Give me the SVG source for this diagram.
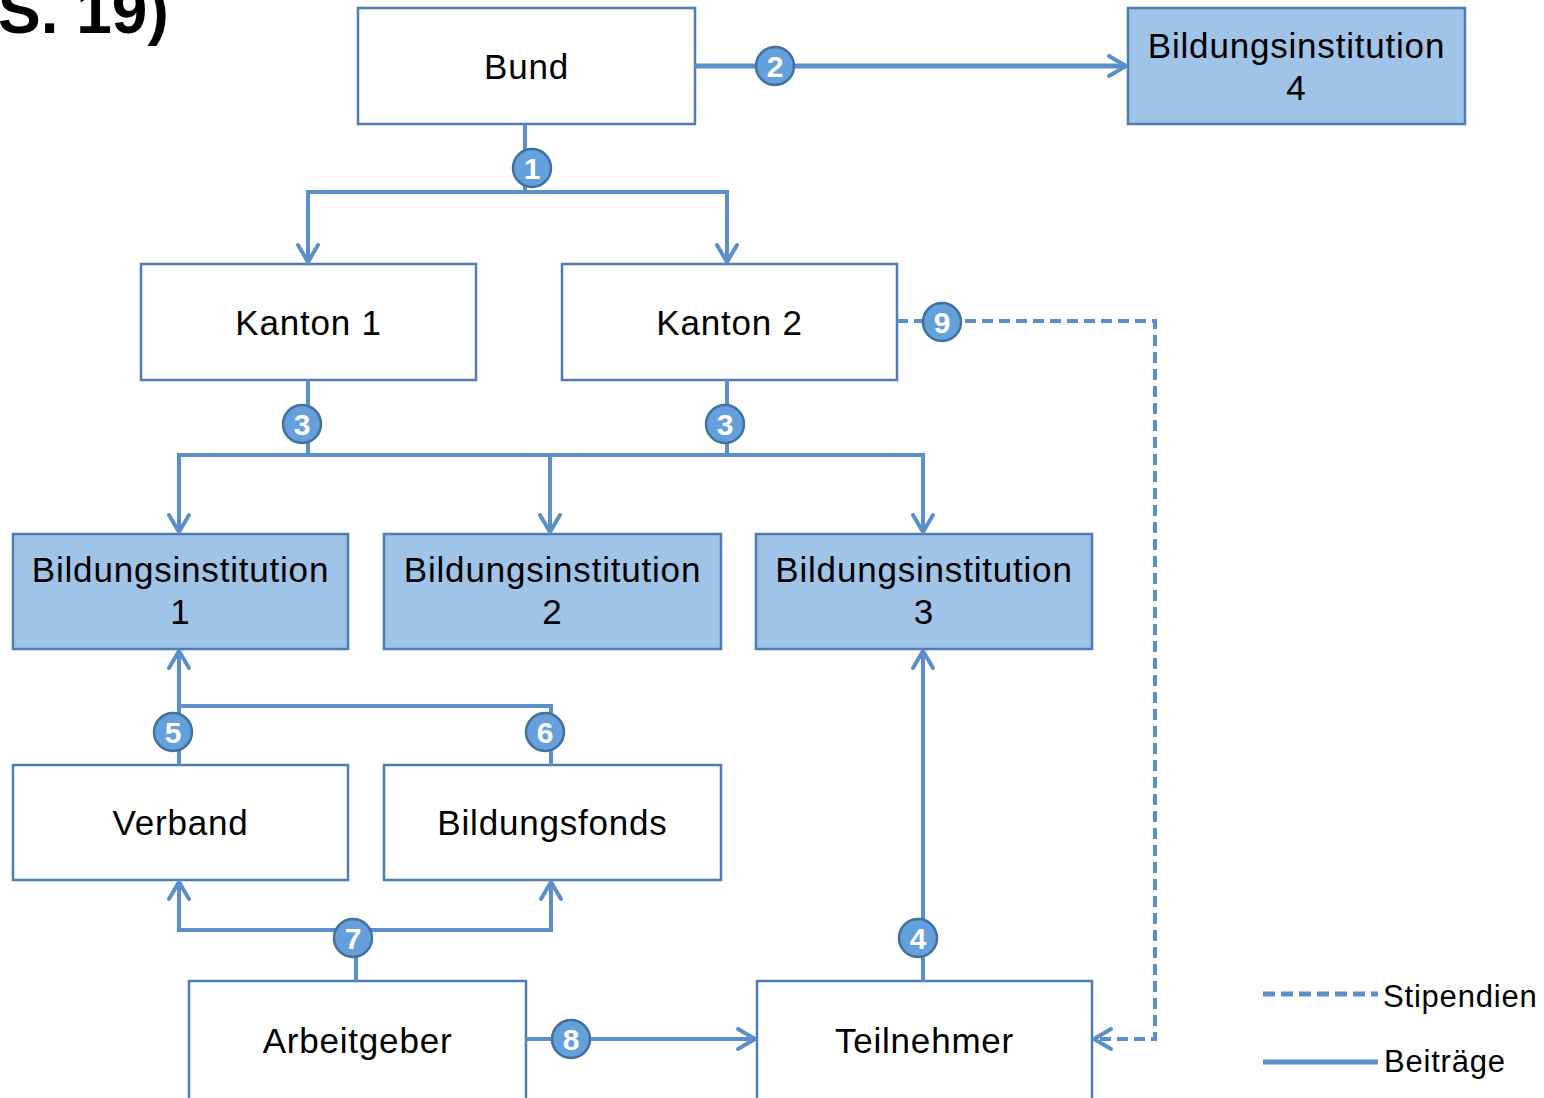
<svg xmlns="http://www.w3.org/2000/svg" width="1544" height="1098" viewBox="0 0 1544 1098">
<defs>
<style>
.box{fill:#ffffff;stroke:#4f7db3;stroke-width:2.5}
.inst{fill:#a0c3e8;stroke:#4f7db3;stroke-width:2.5}
.lbl{font-family:"Liberation Sans",Arial,sans-serif;font-size:35px;letter-spacing:0.8px;fill:#000;text-anchor:middle}
.ln{fill:none;stroke:#5b8fc9;stroke-width:4;stroke-linejoin:miter}
.dash{fill:none;stroke:#5b8fc9;stroke-width:4;stroke-dasharray:11 6}
.num circle{fill:#64a0dc;stroke:#41719c;stroke-width:2.5}
.num text{font-family:"Liberation Sans",Arial,sans-serif;font-size:30px;font-weight:bold;fill:#fff;text-anchor:middle}
.leg{font-family:"Liberation Sans",Arial,sans-serif;font-size:31px;letter-spacing:0.8px;fill:#000}
</style>
<marker id="ah" viewBox="-20 -13 24 26" markerWidth="24" markerHeight="26" refX="0" refY="0" orient="auto-start-reverse" markerUnits="userSpaceOnUse">
<path d="M-17,-10 L0,0 L-17,10" fill="none" stroke="#5b8fc9" stroke-width="4" stroke-linecap="round" stroke-linejoin="round"/>
</marker>
</defs>
<rect width="1544" height="1098" fill="#ffffff"/>
<text x="-2" y="33" font-family="Liberation Sans,Arial,sans-serif" font-size="64" font-weight="bold" fill="#000">S. 19)</text>

<g id="bund"><rect class="box" x="358" y="8" width="337" height="116"/><text class="lbl" x="526.5" y="79">Bund</text></g>
<g id="bi4"><rect class="inst" x="1128" y="8" width="337" height="116"/><text class="lbl" x="1296.5" y="58">Bildungsinstitution</text><text class="lbl" x="1296.5" y="100">4</text></g>
<g id="kanton1"><rect class="box" x="141" y="264" width="335" height="116"/><text class="lbl" x="308.5" y="335">Kanton 1</text></g>
<g id="kanton2"><rect class="box" x="562" y="264" width="335" height="116"/><text class="lbl" x="729.5" y="335">Kanton 2</text></g>
<g id="bi1"><rect class="inst" x="13" y="534" width="335" height="115"/><text class="lbl" x="180.5" y="582">Bildungsinstitution</text><text class="lbl" x="180.5" y="624">1</text></g>
<g id="bi2"><rect class="inst" x="384" y="534" width="337" height="115"/><text class="lbl" x="552.5" y="582">Bildungsinstitution</text><text class="lbl" x="552.5" y="624">2</text></g>
<g id="bi3"><rect class="inst" x="756" y="534" width="336" height="115"/><text class="lbl" x="924" y="582">Bildungsinstitution</text><text class="lbl" x="924" y="624">3</text></g>
<g id="verband"><rect class="box" x="13" y="765" width="335" height="115"/><text class="lbl" x="180.5" y="835">Verband</text></g>
<g id="bildungsfonds"><rect class="box" x="384" y="765" width="337" height="115"/><text class="lbl" x="552.5" y="835">Bildungsfonds</text></g>
<g id="arbeitgeber"><rect class="box" x="189" y="981" width="337" height="125"/><text class="lbl" x="357.5" y="1053">Arbeitgeber</text></g>
<g id="teilnehmer"><rect class="box" x="757" y="981" width="335" height="125"/><text class="lbl" x="924.5" y="1053">Teilnehmer</text></g>

<g id="connectors">
<path class="ln" d="M525,124 V192"/>
<path class="ln" d="M308,262 V192 H727 V262" marker-start="url(#ah)" marker-end="url(#ah)"/>
<path class="ln" style="stroke-width:5" d="M695,66 H1126" marker-end="url(#ah)"/>
<path class="ln" d="M308,380 V455"/>
<path class="ln" d="M727,380 V455"/>
<path class="ln" d="M179,532 V455 H923 V532" marker-start="url(#ah)" marker-end="url(#ah)"/>
<path class="ln" d="M550,455 V532" marker-end="url(#ah)"/>
<path class="ln" d="M179,765 V651" marker-end="url(#ah)"/>
<path class="ln" d="M179,706 H551 V765"/>
<path class="ln" d="M179,882 V930 H551 V882" marker-start="url(#ah)" marker-end="url(#ah)"/>
<path class="ln" d="M356,930 V981"/>
<path class="ln" d="M526,1039 H755" marker-end="url(#ah)"/>
<path class="ln" d="M923,981 V651" marker-end="url(#ah)"/>
<path class="dash" d="M897,321 H1155 V1039 H1094" marker-end="url(#ah)"/>
<g class="num"><circle cx="532" cy="168" r="19"/><text x="532" y="179">1</text></g>
<g class="num"><circle cx="775" cy="66" r="19"/><text x="775" y="77">2</text></g>
<g class="num"><circle cx="302" cy="424" r="19"/><text x="302" y="435">3</text></g>
<g class="num"><circle cx="725" cy="424" r="19"/><text x="725" y="435">3</text></g>
<g class="num"><circle cx="918" cy="938" r="19"/><text x="918" y="949">4</text></g>
<g class="num"><circle cx="173" cy="732" r="19"/><text x="173" y="743">5</text></g>
<g class="num"><circle cx="545" cy="732" r="19"/><text x="545" y="743">6</text></g>
<g class="num"><circle cx="353" cy="938" r="19"/><text x="353" y="949">7</text></g>
<g class="num"><circle cx="571" cy="1039" r="19"/><text x="571" y="1050">8</text></g>
<g class="num"><circle cx="942" cy="322" r="19"/><text x="942" y="333">9</text></g>
</g>

<g id="legend">
<path class="dash" style="stroke-width:5;stroke-dasharray:12 6" d="M1263,994 H1378"/>
<text class="leg" x="1383" y="1007">Stipendien</text>
<path class="ln" style="stroke-width:5" d="M1263,1062 H1378"/>
<text class="leg" x="1384" y="1072">Beiträge</text>
</g>
</svg>
